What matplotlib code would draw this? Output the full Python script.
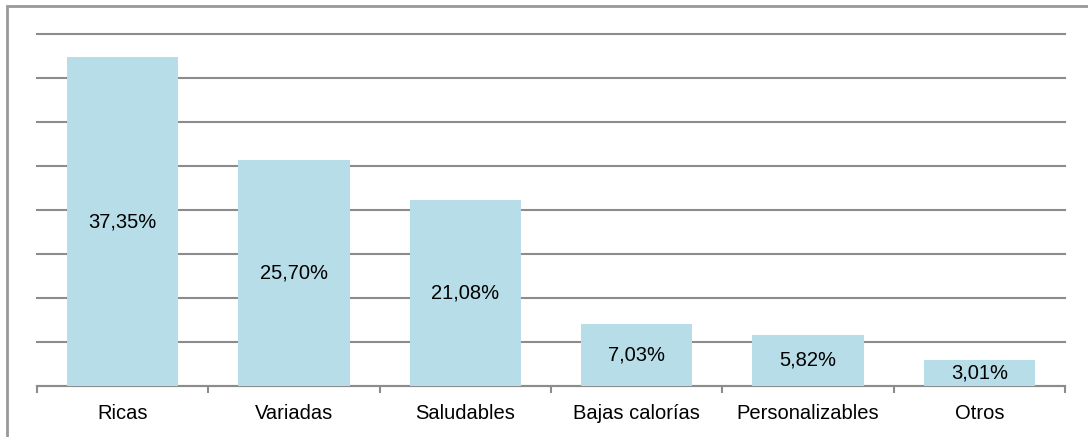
import matplotlib.pyplot as plt
import numpy as np
from matplotlib.patches import Rectangle

categorias = ["Ricas", "Variadas", "Saludables", "Bajas calorías", "Personalizables", "Otros"]
porcentajes = [37.35, 25.70, 21.08, 7.03, 5.82, 3.01]
etiquetas = ["37,35%", "25,70%", "21,08%", "7,03%", "5,82%", "3,01%"]

plt.rcParams['font.family'] = ['Liberation Sans', 'DejaVu Sans']

fig = plt.figure(figsize=(10.88, 4.37), dpi=100)
ax = fig.add_axes([37 / 1088, 1 - 386 / 437, (1065 - 37) / 1088, (386 - 34) / 437])

x = np.arange(len(categorias))
barras = ax.bar(x, porcentajes, width=0.65, color='#b7dde8', zorder=3)

for b, txt in zip(barras, etiquetas):
    ax.text(b.get_x() + b.get_width() / 2, b.get_height() / 2, txt,
            ha='center', va='center', fontsize=14.5, color='black', zorder=4)

ax.set_xlim(-0.5, len(categorias) - 0.5)
ax.set_ylim(0, 40)
ax.set_yticks(np.arange(0, 41, 5))
ax.yaxis.grid(True, color='#8c8c8c', linewidth=1.5, zorder=1)
for linea in ax.get_ygridlines():
    linea.set_clip_on(False)
ax.tick_params(axis='y', left=False, labelleft=False)

ax.set_xticks(x)
ax.set_xticklabels(categorias, fontsize=14.5)
ax.set_xticks(np.arange(-0.5, len(categorias)), minor=True)
ax.tick_params(axis='x', which='major', length=0, pad=13)
ax.tick_params(axis='x', which='minor', length=5, width=1.5, color='#8c8c8c')

for s in ['left', 'right', 'top']:
    ax.spines[s].set_visible(False)
ax.spines['bottom'].set_color('#8c8c8c')
ax.spines['bottom'].set_linewidth(1.5)

# marco gris del gráfico
fig.patches.append(Rectangle((7 / 1088, -0.1), 1.2, 1 - 5.5 / 437 + 0.1,
                             transform=fig.transFigure, fill=False,
                             edgecolor='#999999', linewidth=2))

fig.savefig('out.png', dpi=100)
